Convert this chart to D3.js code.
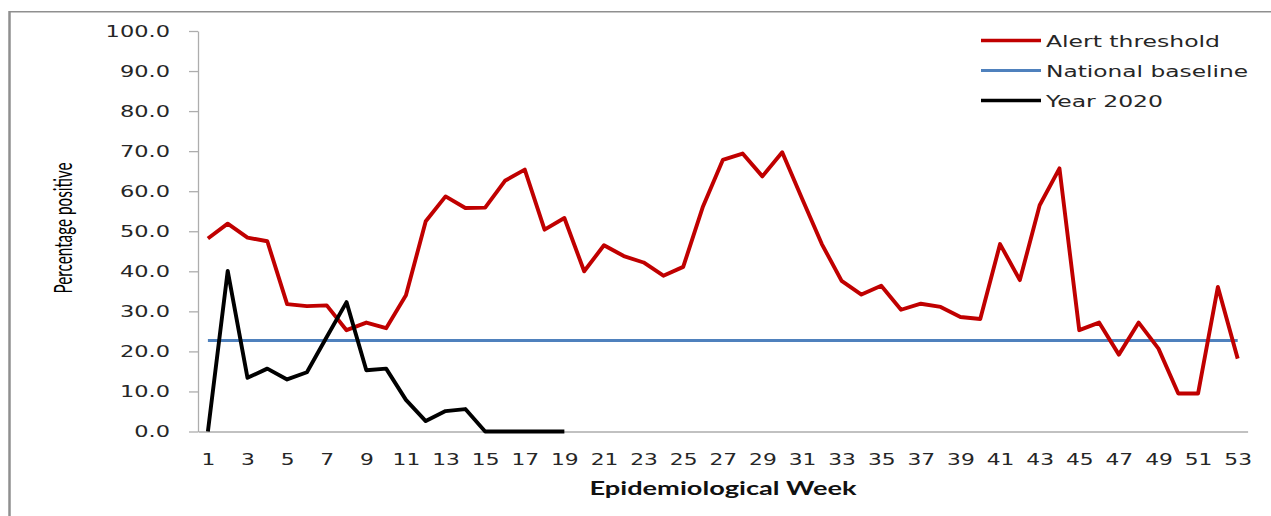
<!DOCTYPE html>
<html>
<head>
<meta charset="utf-8">
<script src="https://cdn.jsdelivr.net/npm/d3@7"></script>
<style>
  html, body { margin: 0; padding: 0; background: #fff; }
  svg { display: block; }
</style>
</head>
<body>
<svg id="chart" width="1271" height="516"></svg>
<script>
// ---- data ----
const weeks = [1,2,3,4,5,6,7,8,9,10,11,12,13,14,15,16,17,18,19,20,21,22,23,24,25,26,27,
  28,29,30,31,32,33,34,35,36,37,38,39,40,41,42,43,44,45,46,47,48,49,50,51,52,53];
const xTickLabels = [1,3,5,7,9,11,13,15,17,19,21,23,25,27,29,31,33,35,37,39,41,43,45,47,49,51,53];
const yTickLabels = [0,10,20,30,40,50,60,70,80,90,100];
const alertThreshold = [48.2, 51.9, 48.4, 47.5, 31.8, 31.3, 31.5, 25.3, 27.2, 25.8, 34.0, 52.5, 58.7,
  55.8, 55.9, 62.6, 65.4, 50.4, 53.3, 40.0, 46.5, 43.8, 42.2, 38.9, 41.1, 56.2, 67.8, 69.4, 63.7,
  69.7, 58.2, 46.8, 37.6, 34.2, 36.4, 30.4, 31.9, 31.1, 28.6, 28.1, 46.8, 37.8, 56.5, 65.7, 25.3,
  27.2, 19.2, 27.2, 20.7, 9.5, 9.5, 36.1, 18.2];
const nationalBaseline = 22.7;
const year2020 = [0, 40.1, 13.4, 15.7, 13.0, 14.8, 23.6, 32.3, 15.3, 15.7, 7.9, 2.6, 5.1, 5.6, 0, 0, 0, 0, 0];
const seriesNames = ["Alert threshold", "National baseline", "Year 2020"];
const seriesColors = ["#C00000", "#4F81BD", "#000000"];
const axisTitleX = "Epidemiological Week";
const axisTitleY = "Percentage positive";

// ---- layout ----
const svg = d3.select("#chart");
const plotLeft = 198, plotRight = 1247.6, plotTop = 31, plotBottom = 431.5;
const x = d3.scaleLinear().domain([0.5, 53.5]).range([plotLeft, plotRight]);
const y = d3.scaleLinear().domain([0, 100]).range([plotBottom, plotTop]);
const textColor = "#262626";
const axisColor = "#ADADAD";
const stretch = 1.46;

// frame
svg.append("line").attr("x1", 9.5).attr("x2", 9.5).attr("y1", 11).attr("y2", 516)
  .attr("stroke", "#8f8f8f").attr("stroke-width", 2.5);
svg.append("line").attr("x1", 9).attr("x2", 1271).attr("y1", 11.75).attr("y2", 11.75)
  .attr("stroke", "#8f8f8f").attr("stroke-width", 1.5);

// y axis
const yAxis = svg.append("g").attr("transform", `translate(${plotLeft},0)`)
  .call(d3.axisLeft(y).tickValues(yTickLabels).tickFormat(d3.format(".1f")).tickSize(9).tickSizeOuter(0));
yAxis.select(".domain").attr("stroke", axisColor).attr("stroke-width", 1.3);
yAxis.selectAll(".tick line").attr("stroke", axisColor).attr("stroke-width", 1.3);
yAxis.selectAll(".tick text")
  .attr("x", 0).attr("dy", "0.36em")
  .attr("transform", `translate(-28,0) scale(1.5,1)`)
  .attr("font-family", "DejaVu Sans").attr("font-size", 15).attr("fill", textColor);

// x axis
const xAxis = svg.append("g").attr("transform", `translate(0,${plotBottom})`)
  .call(d3.axisBottom(x).tickValues(xTickLabels).tickFormat(d3.format("d")).tickSize(0).tickSizeOuter(0));
xAxis.select(".domain").attr("stroke", axisColor).attr("stroke-width", 1.3);
xAxis.selectAll(".tick text")
  .attr("y", 0).attr("dy", 0)
  .attr("transform", `translate(0,33.5) scale(1.36,1)`)
  .attr("font-family", "DejaVu Sans").attr("font-size", 16).attr("fill", textColor);

// axis titles
svg.append("text")
  .attr("transform", `translate(723,495)`)
  .attr("text-anchor", "middle")
  .attr("font-family", "Lato").attr("font-weight", "bold").attr("font-size", 18)
  .attr("textLength", 267).attr("lengthAdjust", "spacingAndGlyphs")
  .attr("fill", "#111").text(axisTitleX);
svg.append("text")
  .attr("transform", `translate(72,228) scale(${stretch},1) rotate(-90)`)
  .attr("text-anchor", "middle")
  .attr("font-family", "Lato").attr("font-size", 17.5)
  .attr("textLength", 131).attr("lengthAdjust", "spacingAndGlyphs")
  .attr("fill", "#000").text(axisTitleY);

// lines
const line = d3.line().x(d => x(d[0])).y(d => y(d[1]));
svg.append("path")
  .datum([[weeks[0], nationalBaseline], [weeks[weeks.length - 1], nationalBaseline]])
  .attr("d", line).attr("fill", "none").attr("stroke", seriesColors[1]).attr("stroke-width", 3);
svg.append("path")
  .datum(alertThreshold.map((v, i) => [weeks[i], v]))
  .attr("d", line).attr("fill", "none").attr("stroke", seriesColors[0])
  .attr("stroke-width", 3.9).attr("stroke-linejoin", "round");
svg.append("path")
  .datum(year2020.map((v, i) => [weeks[i], v]))
  .attr("d", line).attr("fill", "none").attr("stroke", seriesColors[2])
  .attr("stroke-width", 3.9).attr("stroke-linejoin", "round");

// legend
const legendWidths = [174, 202, 117];
const legend = svg.append("g");
seriesNames.forEach((name, i) => {
  const ly = 40.5 + i * 30;
  legend.append("line").attr("x1", 981).attr("x2", 1041).attr("y1", ly).attr("y2", ly)
    .attr("stroke", seriesColors[i]).attr("stroke-width", i === 1 ? 3 : 3.6);
  legend.append("text").attr("x", 1046).attr("y", ly + 6.5)
    .attr("font-family", "DejaVu Sans").attr("font-size", 16).attr("fill", textColor)
    .attr("textLength", legendWidths[i]).attr("lengthAdjust", "spacingAndGlyphs")
    .text(name);
});
</script>
</body>
</html>
